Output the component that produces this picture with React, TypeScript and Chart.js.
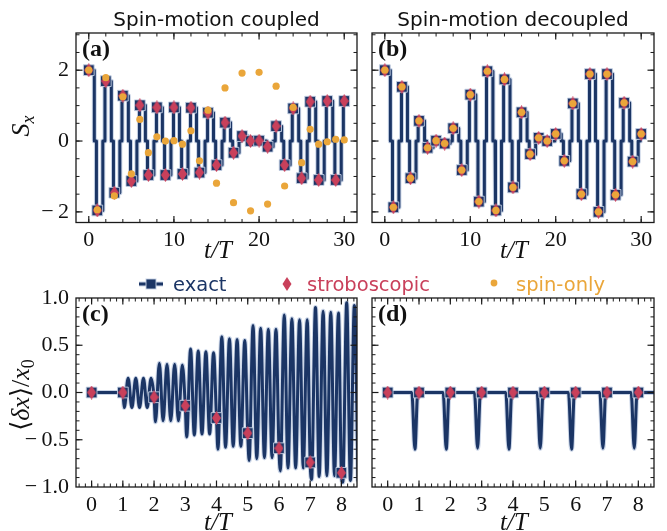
import React, { useEffect, useRef } from 'react';
import { Chart, registerables } from 'chart.js';

Chart.register(...registerables);

const W = 667;
const H = 531;
const NAVY = '#1b3565';
const HALO = 'rgba(196,208,228,0.9)';
const RED = '#c9405b';
const ORANGE = '#eaa63a';
const INK = '#111111';
const SERIF = "'Liberation Serif', 'DejaVu Serif', serif";
const SANS = "'DejaVu Sans', sans-serif";

// ---------- data: spin panels (a), (b) ----------
const periods = [0, 1, 2, 3, 4, 5, 6, 7, 8, 9, 10, 11, 12, 13, 14, 15, 16, 17, 18, 19, 20, 21, 22, 23, 24, 25, 26, 27, 28, 29, 30];
const aExact = [2.0, -1.96, 1.69, -1.46, 1.28, -1.13, 1.01, -0.96, 0.95, -0.96, 0.95, -0.93, 0.94, -0.89, 0.8, -0.68, 0.52, -0.33, 0.14, 0.0, 0.01, -0.16, 0.42, -0.68, 0.92, -1.05, 1.11, -1.1, 1.13, -1.1, 1.13];
const aStrobe = [2.0, -1.96, 1.69, -1.46, 1.28, -1.13, 1.01, -0.96, 0.95, -0.96, 0.95, -0.93, 0.94, -0.89, 0.8, -0.68, 0.52, -0.33, 0.14, 0.0, 0.01, -0.16, 0.42, -0.68, 0.92, -1.05, 1.11, -1.1, 1.13, -1.1, 1.13];
const aSpinOnly = [2.0, -1.94, 1.79, -1.55, 1.25, -0.93, 0.61, -0.33, 0.12, 0.0, 0.01, -0.09, 0.29, -0.56, 0.87, -1.19, 1.5, -1.74, 1.92, -1.97, 1.94, -1.78, 1.55, -1.27, 0.95, -0.61, 0.33, -0.09, -0.02, 0.05, 0.03];
const bExact = [2.0, -1.87, 1.53, -1.05, 0.57, -0.19, 0.01, -0.07, 0.36, -0.82, 1.31, -1.71, 1.97, -1.96, 1.74, -1.31, 0.81, -0.37, 0.09, 0.0, 0.2, -0.56, 1.06, -1.5, 1.89, -2.0, 1.89, -1.52, 1.08, -0.58, 0.2];
const bStrobe = [2.0, -1.87, 1.53, -1.05, 0.57, -0.19, 0.01, -0.07, 0.36, -0.82, 1.31, -1.71, 1.97, -1.96, 1.74, -1.31, 0.81, -0.37, 0.09, 0.0, 0.2, -0.56, 1.06, -1.5, 1.89, -2.0, 1.89, -1.52, 1.08, -0.58, 0.2];
const bSpinOnly = [2.0, -1.87, 1.53, -1.05, 0.57, -0.19, 0.01, -0.07, 0.36, -0.82, 1.31, -1.71, 1.97, -1.96, 1.74, -1.31, 0.81, -0.37, 0.09, 0.0, 0.2, -0.56, 1.06, -1.5, 1.89, -2.0, 1.89, -1.52, 1.08, -0.58, 0.2];
// pulse timing inside one period (fraction of T)
const PULSE_ON = 0.65;
const PULSE_OFF = 0.9;

// ---------- data: motion panels (c), (d) ----------
const cycles = [0, 1, 2, 3, 4, 5, 6, 7, 8];
const cStrobe = [0, 0, -0.05, -0.14, -0.27, -0.43, -0.59, -0.74, -0.85];
const cPeaks = [
  [0.15, 0.15, 0.15, 0.15],
  [0.31, 0.3, 0.3, 0.29],
  [0.46, 0.44, 0.43, 0.42],
  [0.59, 0.57, 0.56, 0.55],
  [0.71, 0.68, 0.67, 0.67],
  [0.82, 0.78, 0.77, 0.77],
  [0.9, 0.86, 0.85, 0.84],
  [0.95, 0.92],
];
const cTroughs = [
  [-0.16, -0.16, -0.16, -0.16],
  [-0.31, -0.3, -0.3, -0.3],
  [-0.47, -0.45, -0.44, -0.44],
  [-0.6, -0.58, -0.57, -0.57],
  [-0.72, -0.7, -0.69, -0.69],
  [-0.83, -0.8, -0.8, -0.8],
  [-0.92, -0.89, -0.88, -0.88],
  [-0.95, -0.93, -0.93],
];
const OSC = 0.245;
const TROUGH_OFF = 0.045;
const PEAK_OFF = 0.17;
const dStrobe = [0, 0, 0, 0, 0, 0, 0, 0, 0];
const dDip = [-0.6, -0.6, -0.59, -0.6, -0.59, -0.6, -0.59, -0.59];
const DIP_START = 0.77;
const DIP_AT = 0.87;
const DIP_END = 0.96;

// ---------- tick labels ----------
const topXTicks = [0, 10, 20, 30];
const topYTicks = [-2, 0, 2];
const botXTicks = [0, 1, 2, 3, 4, 5, 6, 7, 8];
const botYTicks = [-1, -0.5, 0, 0.5, 1];

const grid = (a: number, b: number, s: number) => {
  const out: number[] = [];
  for (let v = a; v <= b + 1e-9; v += s) out.push(Math.round(v * 1000) / 1000);
  return out;
};

function stepLine(vals: number[]) {
  const pts: any[] = [];
  vals.forEach((v, n) => {
    pts.push({ x: periods[n], y: v });
    if (n < vals.length - 1) {
      pts.push({ x: periods[n] + PULSE_ON, y: v });
      pts.push({ x: periods[n] + PULSE_ON, y: 0 });
      pts.push({ x: periods[n] + PULSE_OFF, y: 0 });
      pts.push({ x: periods[n] + PULSE_OFF, y: vals[n + 1] });
    }
  });
  return pts;
}

function motionLine() {
  const pts: any[] = [{ x: cycles[0], y: cStrobe[0] }];
  for (let n = 1; n < cycles.length; n++) {
    pts.push({ x: cycles[n], y: cStrobe[n] });
    const P = cPeaks[n - 1];
    const T = cTroughs[n - 1];
    for (let k = 0; k < T.length; k++) {
      pts.push({ x: cycles[n] + TROUGH_OFF + k * OSC, y: T[k] });
      if (k < P.length) pts.push({ x: cycles[n] + PEAK_OFF + k * OSC, y: P[k] });
    }
  }
  return pts;
}

function decoupledLine() {
  const pts: any[] = [{ x: cycles[0], y: dStrobe[0] }];
  dDip.forEach((v, n) => {
    pts.push({ x: cycles[n] + DIP_START, y: 0 });
    pts.push({ x: cycles[n] + DIP_AT, y: v });
    pts.push({ x: cycles[n] + DIP_END, y: 0 });
    pts.push({ x: cycles[n + 1], y: dStrobe[n + 1] });
  });
  pts.push({ x: 8.6, y: 0 });
  return pts;
}

const inTicks = {
  id: 'inTicks',
  afterDraw(chart: any, _a: any, o: any) {
    if (!o || !o.xMajor) return;
    const { ctx, chartArea: ca } = chart;
    const xs = chart.scales.x;
    const ys = chart.scales.y;
    ctx.save();
    ctx.strokeStyle = '#1a1a1a';
    const seg = (x1: number, y1: number, x2: number, y2: number, w: number) => {
      ctx.lineWidth = w;
      ctx.beginPath();
      ctx.moveTo(x1, y1);
      ctx.lineTo(x2, y2);
      ctx.stroke();
    };
    const xt = (vals: number[], len: number, w: number) =>
      vals.forEach((v) => {
        const p = xs.getPixelForValue(v);
        if (p < ca.left + 0.5 || p > ca.right - 0.5) return;
        seg(p, ca.bottom, p, ca.bottom - len, w);
        seg(p, ca.top, p, ca.top + len, w);
      });
    const yt = (vals: number[], len: number, w: number) =>
      vals.forEach((v) => {
        const p = ys.getPixelForValue(v);
        if (p < ca.top + 0.5 || p > ca.bottom - 0.5) return;
        seg(ca.left, p, ca.left + len, p, w);
        seg(ca.right, p, ca.right - len, p, w);
      });
    xt(o.xMinor, 3.5, 1);
    xt(o.xMajor, 6.5, 1.2);
    yt(o.yMinor, 3.5, 1);
    yt(o.yMajor, 6.5, 1.2);
    ctx.lineWidth = 1.3;
    ctx.strokeRect(ca.left, ca.top, ca.right - ca.left, ca.bottom - ca.top);
    ctx.restore();
  },
};

const Y_AXIS_W = 64;
const X_AXIS_H = 30;

const fmt = (d: number) => (v: number) => (v < 0 ? '\u2212\u2009' : '') + Math.abs(v).toFixed(d);

function diamondImg(w: number, h: number, color: string) {
  const c = document.createElement('canvas');
  c.width = w;
  c.height = h;
  const g = c.getContext('2d')!;
  g.fillStyle = color;
  g.beginPath();
  g.moveTo(w / 2, 0);
  g.lineTo(w, h / 2);
  g.lineTo(w / 2, h);
  g.lineTo(0, h / 2);
  g.closePath();
  g.fill();
  return c;
}

function buildConfig(p: any) {
  const f = p.frame;
  return {
    type: 'line',
    data: { datasets: p.datasets },
    options: {
      animation: false,
      responsive: false,
      maintainAspectRatio: false,
      events: [],
      layout: { padding: { left: f.l - Y_AXIS_W, top: f.t, right: W - f.r, bottom: H - f.b - X_AXIS_H } },
      plugins: {
        legend: { display: false },
        tooltip: { enabled: false },
        title: { display: false },
        inTicks: p.ticks,
      },
      scales: {
        x: {
          type: 'linear',
          min: p.xr[0],
          max: p.xr[1],
          grid: { display: false, drawTicks: false },
          border: { display: false },
          afterBuildTicks: (s: any) => {
            s.ticks = p.xTicks.map((v: number) => ({ value: v }));
          },
          afterFit: (s: any) => {
            s.height = X_AXIS_H;
          },
          ticks: { font: { family: SERIF, size: 22 }, color: INK, padding: 5, maxRotation: 0, autoSkip: false, callback: fmt(p.xDec) },
        },
        y: {
          type: 'linear',
          min: p.yr[0],
          max: p.yr[1],
          grid: { display: false, drawTicks: false },
          border: { display: false },
          afterBuildTicks: (s: any) => {
            s.ticks = p.yTicks.map((v: number) => ({ value: v }));
          },
          afterFit: (s: any) => {
            s.width = Y_AXIS_W;
          },
          ticks: { font: { family: SERIF, size: 22 }, color: INK, padding: 7, autoSkip: false, callback: fmt(p.yDec) },
        },
      },
    },
    plugins: [inTicks],
  };
}

function lineSets(pts: any[], smooth: boolean) {
  const common = {
    data: pts,
    pointRadius: 0,
    fill: false,
    tension: 0,
    cubicInterpolationMode: smooth ? 'monotone' : 'default',
    borderJoinStyle: 'round',
    borderCapStyle: 'round',
  };
  return [
    { ...common, borderColor: HALO, borderWidth: 5, order: 10 },
    { ...common, borderColor: NAVY, borderWidth: 3, order: 9 },
  ];
}

function markerSets(xs: number[], exact: number[], strobe: number[], spin: number[] | null, diamond: any) {
  const sets: any[] = [
    {
      data: xs.map((x, i) => ({ x, y: exact[i] })),
      showLine: false,
      pointStyle: 'rect',
      pointRadius: 7.6,
      pointBackgroundColor: NAVY,
      pointBorderColor: HALO,
      pointBorderWidth: 1,
      order: 3,
    },
    {
      data: xs.map((x, i) => ({ x, y: strobe[i] })),
      showLine: false,
      pointStyle: diamond,
      pointRadius: 6,
      order: 2,
    },
  ];
  if (spin) {
    sets.push({
      data: xs.map((x, i) => ({ x, y: spin[i] })),
      showLine: false,
      pointStyle: 'circle',
      pointRadius: 3.6,
      pointBackgroundColor: ORANGE,
      pointBorderWidth: 0,
      order: 1,
    });
  }
  return sets;
}

const topTickSpec = { xMajor: topXTicks, xMinor: grid(0, 30, 2), yMajor: topYTicks, yMinor: grid(-2, 3, 0.5) };
const botTickSpec = { xMajor: botXTicks, xMinor: grid(-0.4, 8.4, 0.2), yMajor: botYTicks, yMinor: grid(-1, 1, 0.1) };

const FRAMES = {
  a: { l: 76, t: 33, r: 357, b: 222.5 },
  b: { l: 372, t: 33, r: 654, b: 222.5 },
  c: { l: 76, t: 298, r: 357, b: 487 },
  d: { l: 372, t: 298, r: 654, b: 487 },
};

function Panel({ which }: { which: 'a' | 'b' | 'c' | 'd' }) {
  const ref = useRef<HTMLCanvasElement>(null);
  useEffect(() => {
    const dia = diamondImg(9, 14, RED);
    let p: any;
    if (which === 'a' || which === 'b') {
      const ex = which === 'a' ? aExact : bExact;
      const st = which === 'a' ? aStrobe : bStrobe;
      const sp = which === 'a' ? aSpinOnly : bSpinOnly;
      p = {
        frame: FRAMES[which],
        xr: [-1.5, 31.5],
        yr: [-2.3, 3.05],
        xTicks: topXTicks,
        yTicks: which === 'a' ? topYTicks : [],
        xDec: 0,
        yDec: 0,
        ticks: topTickSpec,
        datasets: [...lineSets(stepLine(ex), false), ...markerSets(periods, ex, st, sp, dia)],
      };
    } else {
      const line = which === 'c' ? motionLine() : decoupledLine();
      const st = which === 'c' ? cStrobe : dStrobe;
      p = {
        frame: FRAMES[which],
        xr: [-0.5, 8.5],
        yr: [-1, 1],
        xTicks: botXTicks,
        yTicks: which === 'c' ? botYTicks : [],
        xDec: 0,
        yDec: 1,
        ticks: botTickSpec,
        datasets: [...lineSets(line, true), ...markerSets(cycles, st, st, null, dia)],
      };
    }
    const chart = new Chart(ref.current as HTMLCanvasElement, buildConfig(p) as any);
    return () => chart.destroy();
  }, [which]);
  return <canvas ref={ref} width={W} height={H} style={{ position: 'absolute', left: 0, top: 0, width: W, height: H }} />;
}

function Overlay() {
  const tT = (x: number, y: number) => (
    <text x={x} y={y} textAnchor="middle" fontFamily={SERIF} fontSize={25} fontStyle="italic" fill={INK}>
      t/T
    </text>
  );
  const panel = (x: number, y: number, s: string) => (
    <text x={x} y={y} fontFamily={SERIF} fontWeight="bold" fontSize={24} fill={INK}>
      {s}
    </text>
  );
  return (
    <svg width={W} height={H} style={{ position: 'absolute', left: 0, top: 0 }}>
      <text x={216.5} y={26} textAnchor="middle" fontFamily={SANS} fontSize={20} fill={INK}>
        Spin-motion coupled
      </text>
      <text x={513} y={26} textAnchor="middle" fontFamily={SANS} fontSize={20} fill={INK}>
        Spin-motion decoupled
      </text>
      {panel(82, 56, '(a)')}
      {panel(378, 56, '(b)')}
      {panel(82, 321, '(c)')}
      {panel(378, 321, '(d)')}
      {tT(218, 258)}
      {tT(514, 258)}
      {tT(218, 530)}
      {tT(514, 530)}
      <text transform="translate(29,126) rotate(-90)" textAnchor="middle" fontFamily={SERIF} fontSize={26} fill={INK}>
        <tspan fontStyle="italic">S</tspan>
        <tspan fontStyle="italic" fontSize={18} dy={5}>
          x
        </tspan>
      </text>
      <text transform="translate(29,395) rotate(-90)" textAnchor="middle" fontFamily={SERIF} fontSize={26} fill={INK}>
        <tspan>{'\u27E8'}</tspan>
        <tspan fontStyle="italic">{'\u03B4x'}</tspan>
        <tspan>{'\u27E9/'}</tspan>
        <tspan fontStyle="italic">x</tspan>
        <tspan fontSize={18} dy={5}>
          0
        </tspan>
      </text>
      {/* legend */}
      <line x1={139} y1={284} x2={163} y2={284} stroke={HALO} strokeWidth={5} />
      <line x1={139} y1={284} x2={163} y2={284} stroke={NAVY} strokeWidth={3} />
      <rect x={146} y={279} width={10} height={10} fill={NAVY} stroke={HALO} strokeWidth={1} />
      <text x={173} y={291} fontFamily={SANS} fontSize={19.5} fill={NAVY}>
        exact
      </text>
      <polygon points="287,277 291.5,284 287,291 282.5,284" fill={RED} />
      <text x={307} y={291} fontFamily={SANS} fontSize={19.5} fill={RED}>
        stroboscopic
      </text>
      <circle cx={494} cy={283} r={3.4} fill={ORANGE} />
      <text x={516} y={291} fontFamily={SANS} fontSize={19.5} fill={ORANGE}>
        spin-only
      </text>
    </svg>
  );
}

export default function App() {
  return (
    <div style={{ position: 'absolute', left: 0, top: 0, width: W, height: H, background: '#fff' }}>
      <Panel which="a" />
      <Panel which="b" />
      <Panel which="c" />
      <Panel which="d" />
      <Overlay />
    </div>
  );
}
